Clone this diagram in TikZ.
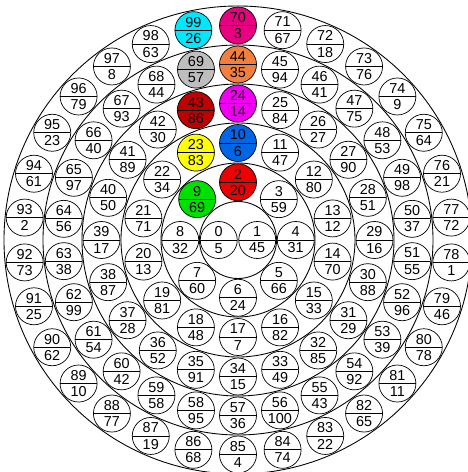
\documentclass[tikz,border=0pt]{standalone}
\usepackage{fontspec}
\usepackage{tikz}
\newfontfamily\cellfont{Liberation Sans}
\definecolor{crose}{RGB}{232,0,128}
\definecolor{corange}{RGB}{242,128,60}
\definecolor{cmagenta}{RGB}{240,0,240}
\definecolor{cblue}{RGB}{0,102,230}
\definecolor{cred}{RGB}{236,0,0}
\definecolor{ccyan}{RGB}{0,232,255}
\definecolor{cgrey}{RGB}{190,190,190}
\definecolor{cdarkred}{RGB}{192,0,0}
\definecolor{cyellow}{RGB}{255,255,0}
\definecolor{cgreen}{RGB}{0,224,0}
\tikzset{cell/.style = {shape = circle, draw, minimum size = 0.74cm, inner sep = 0pt,
	align = center, font = \cellfont\fontsize{8.2}{9.2}\selectfont,
	path picture = {\draw (path picture bounding box.west) -- (path picture bounding box.east);}}}
\tikzset{ring/.style = {draw, line width = 0.5pt}}
\tikzset{hl70/.style = {fill = crose}, hl44/.style = {fill = corange},
	hl24/.style = {fill = cmagenta}, hl10/.style = {fill = cblue},
	hl2/.style = {fill = cred}, hl99/.style = {fill = ccyan},
	hl69/.style = {fill = cgrey}, hl43/.style = {fill = cdarkred},
	hl23/.style = {fill = cyellow}, hl9/.style = {fill = cgreen}}

\begin{document}
\begin{tikzpicture}
	\useasboundingbox (-4.76,-4.64) rectangle (4.60,4.80);

	\foreach \r in {0.77, 1.54, 2.34, 3.12, 3.90, 4.68}
		\draw[ring] (0,0) circle (\r);

	% ring 0
	\node[cell] (n0) at (180:0.385) {0\\5};
	\node[cell] (n1) at (0:0.385) {1\\45};

	% ring 1
	\foreach \p/\q [count=\k from 0] in {2/20, 3/59, 4/31, 5/66, 6/24, 7/60, 8/32, 9/69}
		\node[cell, hl\p/.try] (n\p) at ({90-\k*360/8}:1.155) {\p\\\q};

	% ring 2
	\foreach \p/\q [count=\k from 0] in {10/6, 11/47, 12/80, 13/12, 14/70, 15/33, 16/82,
		17/7, 18/48, 19/81, 20/13, 21/71, 22/34, 23/83}
		\node[cell, hl\p/.try] (n\p) at ({90-\k*360/14}:1.94) {\p\\\q};

	% ring 3
	\foreach \p/\q [count=\k from 0] in {24/14, 25/84, 26/27, 27/90, 28/51, 29/16, 30/88,
		31/29, 32/85, 33/49, 34/15, 35/91, 36/52, 37/28, 38/87, 39/17, 40/50, 41/89,
		42/30, 43/86}
		\node[cell, hl\p/.try] (n\p) at ({90-\k*360/20}:2.73) {\p\\\q};

	% ring 4
	\foreach \p/\q [count=\k from 0] in {44/35, 45/94, 46/41, 47/75, 48/53, 49/98, 50/37,
		51/55, 52/96, 53/39, 54/92, 55/43, 56/100, 57/36, 58/95, 59/58, 60/42, 61/54,
		62/99, 63/38, 64/56, 65/97, 66/40, 67/93, 68/44, 69/57}
		\node[cell, hl\p/.try] (n\p) at ({90-\k*360/26}:3.51) {\p\\\q};

	% ring 5
	\foreach \p/\q [count=\k from 0] in {70/3, 71/67, 72/18, 73/76, 74/9, 75/64, 76/21,
		77/72, 78/1, 79/46, 80/78, 81/11, 82/65, 83/22, 84/74, 85/4, 86/68, 87/19,
		88/77, 89/10, 90/62, 91/25, 92/73, 93/2, 94/61, 95/23, 96/79, 97/8, 98/63, 99/26}
		\node[cell, hl\p/.try] (n\p) at ({90-\k*360/30}:4.29) {\p\\\q};
\end{tikzpicture}
\end{document}
